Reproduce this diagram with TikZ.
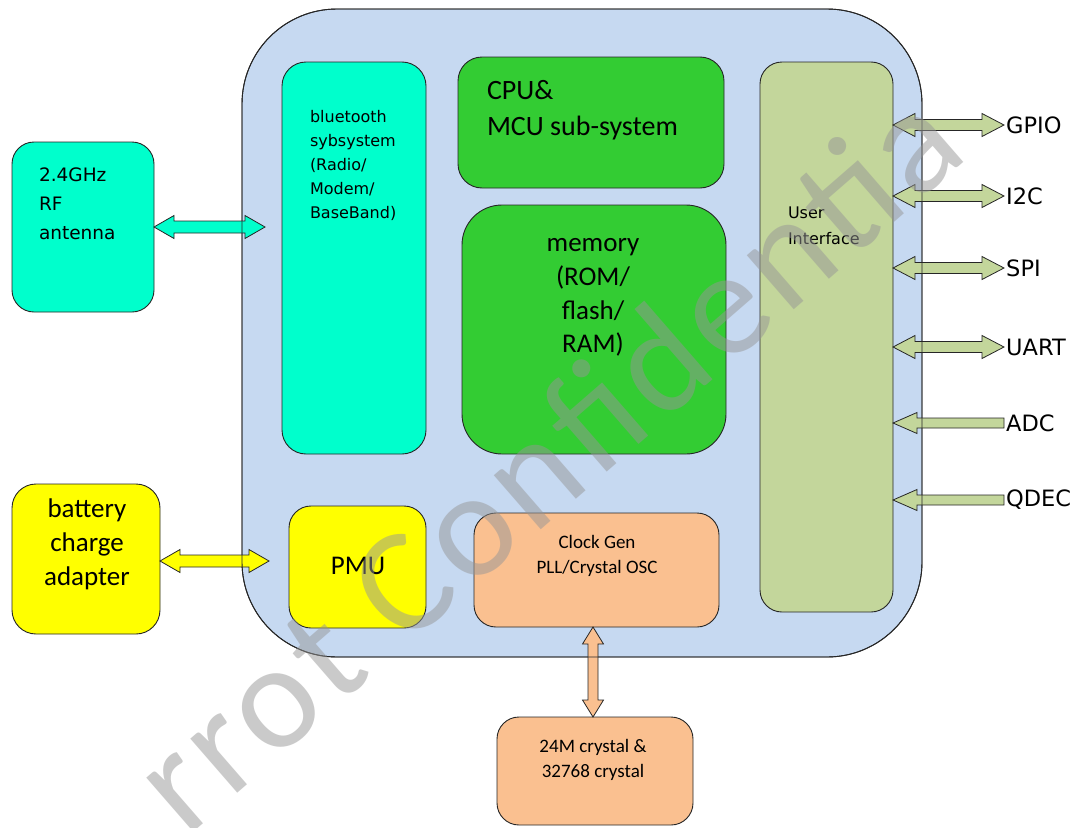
\documentclass[tikz,border=0pt]{standalone}
\usepackage{fontspec}
\newfontfamily\carl{Carlito}
\newfontfamily\carlwide[LetterSpace=4]{Carlito}
\newfontfamily\dvs{DejaVu Sans}
\usetikzlibrary{calc}
\definecolor{bgblue}{HTML}{C6D9F1}
\definecolor{btcyan}{HTML}{00FFCC}
\definecolor{cpugreen}{HTML}{33CC33}
\definecolor{uigreen}{HTML}{C3D69B}
\definecolor{pmuyellow}{HTML}{FFFF00}
\definecolor{peach}{HTML}{FAC090}
\definecolor{wmgray}{RGB}{150,150,150}
\definecolor{edgecol}{HTML}{262626}
\tikzset{
  box/.style={draw=edgecol, line width=0.9pt, inner sep=0pt, outer sep=0pt, rectangle},
  arrowline/.style={draw=edgecol, line width=0.8pt, line join=miter},
  txt/.style={inner sep=0pt, outer sep=0pt},
  iolabel/.style={inner sep=2pt, anchor=west, font=\dvs\fontsize{22.5}{24}\selectfont},
}
% horizontal double block arrow: #1 left, #2 right, #3 fill, #4 shaft half, #5 head half, #6 head length
\newcommand\hDArrow[6]{%
  \draw[arrowline, fill=#3] let \p1=(#1), \p2=(#2) in
   (\x1,\y1) -- (\x1+#6,\y1+#5) -- (\x1+#6,\y1+#4) -- (\x2-#6,\y1+#4) -- (\x2-#6,\y1+#5)
   -- (\x2,\y1) -- (\x2-#6,\y1-#5) -- (\x2-#6,\y1-#4) -- (\x1+#6,\y1-#4) -- (\x1+#6,\y1-#5) -- cycle;}
% single block arrow pointing left: tip #1, flat tail #2
\newcommand\lArrow[6]{%
  \draw[arrowline, fill=#3] let \p1=(#1), \p2=(#2) in
   (\x1,\y1) -- (\x1+#6,\y1+#5) -- (\x1+#6,\y1+#4) -- (\x2,\y1+#4) -- (\x2,\y1-#4)
   -- (\x1+#6,\y1-#4) -- (\x1+#6,\y1-#5) -- cycle;}
% vertical double block arrow: #1 top, #2 bottom
\newcommand\vDArrow[6]{%
  \draw[arrowline, fill=#3] let \p1=(#1), \p2=(#2) in
   (\x1,\y1) -- (\x1+#5,\y1-#6) -- (\x1+#4,\y1-#6) -- (\x1+#4,\y2+#6) -- (\x1+#5,\y2+#6)
   -- (\x1,\y2) -- (\x1-#5,\y2+#6) -- (\x1-#4,\y2+#6) -- (\x1-#4,\y1-#6) -- (\x1-#5,\y1-#6) -- cycle;}
\begin{document}
\begin{tikzpicture}[x=1pt,y=-1pt]
\useasboundingbox[fill=white] (0,0) rectangle (1078,827);

% main chip
\node[box, fill=bgblue, rounded corners=95pt, minimum width=680pt, minimum height=648pt] (main) at (582,333) {};

% inner blocks
\node[box, fill=btcyan, rounded corners=24pt, minimum width=144pt, minimum height=392pt] (bt) at (354,258) {};
\node[box, fill=cpugreen, rounded corners=24pt, minimum width=266pt, minimum height=131pt] (cpu) at (591,122.5) {};
\node[box, fill=cpugreen, rounded corners=40pt, minimum width=264pt, minimum height=249pt] (mem) at (594,329.5) {};
\node[box, fill=uigreen, rounded corners=22pt, minimum width=133pt, minimum height=550pt] (ui) at (826.5,337) {};
\node[box, fill=pmuyellow, rounded corners=22pt, minimum width=137pt, minimum height=122pt] (pmu) at (357.5,567) {};
\node[box, fill=peach, rounded corners=22pt, minimum width=245pt, minimum height=114pt] (clk) at (596.5,570) {};

% outer blocks
\node[box, fill=btcyan, rounded corners=22pt, minimum width=142pt, minimum height=170pt] (ant) at (83,227) {};
\node[box, fill=pmuyellow, rounded corners=24pt, minimum width=148pt, minimum height=150pt] (batt) at (86,559) {};
\node[box, fill=peach, rounded corners=22pt, minimum width=196pt, minimum height=108pt] (xtal) at (595,771) {};

% texts
\node[txt, anchor=west, align=left, font=\dvs\fontsize{18.5}{29}\selectfont] (antT) at (39,204) {2.4GHz\\RF\\antenna};
\node[txt, anchor=west, align=left, font=\dvs\fontsize{16}{24}\selectfont] (btT) at (310,165) {bluetooth\\sybsystem\\(Radio/\\Modem/\\BaseBand)};
\node[txt, anchor=west, align=left, font=\carl\fontsize{28}{36}\selectfont] (cpuT) at (487,110) {CPU\&\\MCU sub-system};
\node[txt, align=center, font=\carl\fontsize{27}{33.7}\selectfont] (memT) at (593,297.5) {memory\\(ROM/\\flash/\\RAM)};
\node[txt, anchor=west, align=left, font=\dvs\fontsize{16}{26}\selectfont] (uiT) at (788,226) {User\\Interface};
\node[txt, align=center, font=\carl\fontsize{27}{34}\selectfont] (battT) at (87,544) {battery\\charge\\adapter};
\node[txt, font=\carl\fontsize{27}{34}\selectfont] (pmuT) at (358,566) {PMU};
\node[txt, align=center, font=\carl\fontsize{19}{25}\selectfont] (clkT) at (597,555.5) {Clock Gen\\PLL/Crystal OSC};
\node[txt, align=center, font=\carl\fontsize{19}{25}\selectfont] (xtalT) at (593,759.5) {24M crystal \&\\32768 crystal};

% IO labels
\node[iolabel] (gpio) at (1004,125) {GPIO};
\node[iolabel] (i2c)  at (1004,196) {I2C};
\node[iolabel] (spi)  at (1004,268) {SPI};
\node[iolabel] (uart) at (1004,347) {UART};
\node[iolabel] (adc)  at (1004,423) {ADC};
\node[iolabel] (qdec) at (1004,500) {QDEC};

% connectors
\coordinate (antEnd) at ($(bt.west |- ant.east)+(-17,0)$);
\hDArrow{ant.east}{antEnd}{btcyan}{6pt}{11.5pt}{20pt}
\coordinate (battL) at ($(batt.east)+(0,2)$);
\coordinate (battEnd) at ($(pmu.west |- battL)+(-20,0)$);
\hDArrow{battL}{battEnd}{pmuyellow}{6pt}{11.5pt}{20pt}
\hDArrow{ui.east |- gpio.west}{gpio.west}{uigreen}{5.5pt}{11.5pt}{22pt}
\hDArrow{ui.east |- i2c.west}{i2c.west}{uigreen}{5.5pt}{11.5pt}{22pt}
\hDArrow{ui.east |- spi.west}{spi.west}{uigreen}{5.5pt}{11.5pt}{22pt}
\hDArrow{ui.east |- uart.west}{uart.west}{uigreen}{5.5pt}{11.5pt}{22pt}
\lArrow{ui.east |- adc.west}{adc.west}{uigreen}{5pt}{10.5pt}{24pt}
\lArrow{ui.east |- qdec.west}{qdec.west}{uigreen}{5pt}{10.5pt}{24pt}
\coordinate (vtop) at ($(clk.south)+(-3.5,0)$);
\coordinate (vbot) at (vtop |- xtal.north);
\vDArrow{vtop}{vbot}{peach}{5pt}{10.5pt}{17pt}

% outline of the chip drawn over the connectors
\draw[draw=edgecol, line width=0.9pt, rounded corners=95pt] (main.north west) rectangle (main.south east);

% watermark
\node[txt, rotate=41, text=wmgray, text opacity=0.5, font=\carlwide\fontsize{150}{150}\selectfont] (wm) at (545,458) {rrot Confidentia};
\end{tikzpicture}
\end{document}
